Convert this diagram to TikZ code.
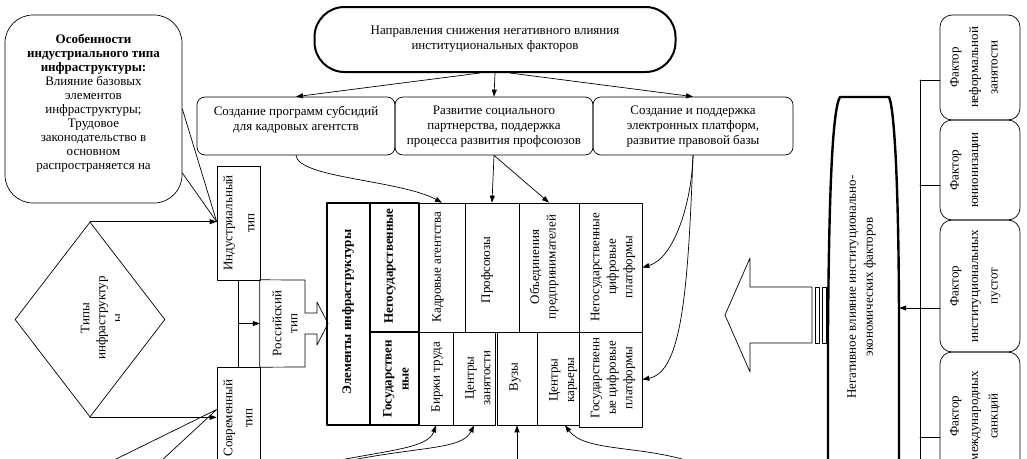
\documentclass[tikz,border=0pt]{standalone}
\usepackage{fontspec}
\setmainfont{Liberation Serif}
\usetikzlibrary{arrows.meta,shapes.geometric}

\begin{document}
\begin{tikzpicture}[line cap=round,line join=round,>={Triangle[length=7pt,width=5pt]},x=1pt,y=-1pt,
    every node/.style={font=\fontsize{13}{15}\selectfont},
    box/.style={draw,line width=0.7pt,inner sep=0pt},
    cell/.style={draw,line width=0.7pt,inner sep=0pt},
    thickcell/.style={draw,line width=1.6pt,inner sep=0pt},
    vtext/.style={rotate=90,align=center,inner sep=0pt,font=\fontsize{13}{16.5}\selectfont},
    rbox/.style={draw,line width=0.7pt,rounded corners=8pt,inner sep=0pt,minimum height=58pt},
    factor/.style={draw,line width=0.7pt,rounded corners=12pt,inner sep=0pt,minimum width=80pt},
    conn/.style={->,line width=0.7pt}]
    \useasboundingbox (0,0) rectangle (1027,458);
    \clip (0,0) rectangle (1027,458);
    % left part
    \node[box,rounded corners=28pt,minimum width=177pt,minimum height=188pt] (osob) at (93.5,109) {};
    \node[align=center,inner sep=0pt,font=\fontsize{13}{14}\selectfont] (osob-t) at (93.5,103) {\textbf{Особенности}\\\textbf{индустриального типа}\\\textbf{инфраструктуры:}\\Влияние базовых\\элементов\\инфраструктуры;\\Трудовое\\законодательство в\\основном\\распространяется на};
    \node[box,diamond,minimum width=150pt,minimum height=195pt] (tipy) at (90,319.5) {};
    \begin{scope}
        \clip (15,220) rectangle (119,420);
        \node[vtext,font=\fontsize{13}{16}\selectfont] (tipy-t) at (101,318) {Типы\\инфраструктур\\ы};
    \end{scope}
    \node[box,minimum width=43pt,minimum height=114pt] (ind) at (238.5,223) {};
    \node[vtext,font=\fontsize{13}{22}\selectfont] (ind-t) at (239,223) {Индустриальный\\тип};
    \node[box,minimum width=43pt,minimum height=103pt] (sovr) at (238.5,418.5) {};
    \node[vtext,font=\fontsize{13}{20}\selectfont] (sovr-t) at (238,418) {Современный\\тип};
    \node[inner sep=0pt,minimum width=45pt,minimum height=87pt] (ros) at (282.5,323.5) {};
    \draw[line width=0.7pt] (ros.north west) -- (305,280) -- (305,313) -- (317,313) -- (317,302) -- (328,323.5)
        -- (317,345) -- (317,334) -- (305,334) -- (305,367) -- (ros.south west) -- cycle;
    \begin{scope}
        \clip (261,281) rectangle (297,366);
        \node[vtext,font=\fontsize{13}{16}\selectfont] (ros-t) at (285,323.5) {Российский\\тип};
    \end{scope}
    \draw[conn] (tipy.north) -- (tipy.north -| ind.west);
    \draw[conn] (tipy.south) -- (tipy.south -| sovr.west);
    \draw[line width=0.7pt] (osob.east) -- (tipy.north -| ind.west);
    \draw[line width=0.7pt] ([yshift=-64pt]osob.east) -- (tipy.north -| ind.west);
    \coordinate (w1) at (110,462);
    \coordinate (w2) at (160,462);
    \draw[line width=0.7pt] (w1) -- ([yshift=9pt]sovr.west) -- (w2);
    \draw[line width=0.7pt] (ind.south) -- (sovr.north);
    \draw[conn] (ind.south |- ros.west) -- (ros.west);
    % top
    \node[draw,line width=2pt,rounded corners=30pt,minimum width=361pt,minimum height=65pt,align=center] (napr) at (495,39.5) {Направления снижения негативного влияния\\институциональных факторов};
    \node[rbox,minimum width=198pt] (sozd) at (296,126) {};
    \node[rbox,minimum width=198pt] (razv) at (494,126) {};
    \node[rbox,minimum width=200pt] (elek) at (693,126) {};
    \node[align=center,inner sep=0pt,anchor=north] (sozd-t) at (296,106) {Создание программ субсидий\\для кадровых агентств};
    \begin{scope}
        \clip (396,98) rectangle (792,149.5);
        \node[align=center,inner sep=0pt,anchor=north] (razv-t) at (494,106) {Развитие социального\\партнерства, поддержка\\процесса развития профсоюзов};
        \node[align=center,inner sep=0pt,anchor=north] (elek-t) at (693,106) {Создание и поддержка\\электронных платформ,\\развитие правовой базы};
    \end{scope}
    \draw[conn] ([xshift=-15pt]napr.south) -- (sozd.north);
    \draw[conn] (napr.south) -- (razv.north);
    \draw[conn] ([xshift=15pt]napr.south) -- (elek.north);
    % elements grid
    \node[cell,minimum width=46pt,minimum height=129pt] (kadr) at (442,267.5) {};
    \node[cell,minimum width=54pt,minimum height=129pt] (prof) at (492,267.5) {};
    \node[cell,minimum width=60pt,minimum height=129pt] (obed) at (549,267.5) {};
    \node[cell,minimum width=63pt,minimum height=129pt] (ncif) at (610.5,267.5) {};
    \node[cell,minimum width=34pt,minimum height=93pt] (birz) at (436,378.5) {};
    \node[cell,minimum width=42pt,minimum height=93pt] (czan) at (474,378.5) {};
    \node[cell,minimum width=40pt,minimum height=93pt] (vuz) at (517,378.5) {};
    \node[cell,minimum width=42pt,minimum height=93pt] (ckar) at (558,378.5) {};
    \node[cell,minimum width=63pt,minimum height=95pt] (gcif) at (610.5,379.5) {};
    \node[thickcell,minimum width=43pt,minimum height=222pt] (elem) at (348.5,314) {};
    \node[thickcell,minimum width=49pt,minimum height=129pt] (negos) at (394.5,267.5) {};
    \node[thickcell,minimum width=49pt,minimum height=93pt] (gos) at (394.5,378.5) {};
    \node[vtext,font=\bfseries\fontsize{13}{16.5}\selectfont] (elem-t) at (348,312) {Элементы инфраструктуры};
    \node[vtext,font=\bfseries\fontsize{13}{16.5}\selectfont] (negos-t) at (390,266) {Негосударственные};
    \node[vtext,font=\bfseries\fontsize{13}{17}\selectfont] (gos-t) at (396,379) {Государствен\\ные};
    \node[vtext] (kadr-t) at (438,267) {Кадровые агентства};
    \node[vtext] (prof-t) at (487,270) {Профсоюзы};
    \node[vtext] (obed-t) at (544,267) {Объединения\\предпринимателей};
    \node[vtext] (ncif-t) at (613,267) {Негосударственные\\цифровые\\платформы};
    \node[vtext] (birz-t) at (437,377) {Биржи труда};
    \node[vtext] (czan-t) at (478,378) {Центры\\занятости};
    \node[vtext] (vuz-t) at (515,377) {Вузы};
    \node[vtext] (ckar-t) at (563,380) {Центры\\карьеры};
    \node[vtext] (gcif-t) at (613,378) {Государственн\\ые цифровые\\платформы};
    \draw[conn] (sozd.south) .. controls (298,178) and (400,180) .. (kadr.north);
    \draw[conn] (razv.south) -- (prof.north);
    \draw[conn] (razv.south) -- (obed.north);
    \draw[conn] (elek.south) .. controls (692,200) and (675,258) .. (ncif.east);
    \draw[conn] (elek.south) .. controls (688,290) and (682,372) .. (gcif.east);
    \coordinate (b1) at (330,462);
    \coordinate (b2) at (342,462);
    \coordinate (b3) at (517,462);
    \coordinate (b4) at (692,462);
    \draw[conn] (b1) .. controls (390,450) and (428,448) .. (birz.south);
    \draw[conn] (b2) .. controls (420,446) and (462,450) .. (czan.south);
    \draw[conn] (b3) -- (vuz.south);
    \draw[conn] (b4) .. controls (640,445) and (585,452) .. ([xshift=7pt]ckar.south);
    % right part
    \draw[line width=0.7pt] (812,287) -- (750,287) -- (750,258) -- (725,315) -- (750,372) -- (750,343) -- (812,343) -- cycle;
    \draw[line width=0.7pt] (815,287) rectangle (819,343);
    \draw[line width=0.7pt] (822,287) rectangle (826,343);
    \node[inner sep=0pt,minimum width=71pt,minimum height=361pt] (neg) at (863.5,277.5) {};
    \draw[line width=2.4pt] (828,480) -- (828,330) .. controls (829,200) and (832,110) .. (840,97) -- (889,97)
        .. controls (895,110) and (899,200) .. (899,330) -- (899,480);
    \node[vtext,font=\fontsize{13}{17}\selectfont] (neg-t) at (861.5,287) {Негативное влияние институционально-\\экономических факторов};
    \node[factor,minimum height=105pt] (fneform) at (980,67.5) {};
    \node[factor,minimum height=100pt] (fyunion) at (980,170) {};
    \node[factor,minimum height=132pt] (finst) at (980,286) {};
    \node[factor,minimum height=128pt] (fmezh) at (980,416) {};
    \node[vtext,anchor=north,font=\fontsize{13}{19.5}\selectfont] (fneform-t) at (950,67.5) {Фактор\\неформальной\\занятости};
    \node[vtext,anchor=north,font=\fontsize{13}{19.5}\selectfont] (fyunion-t) at (950,170) {Фактор\\юнионизации};
    \node[vtext,anchor=north,font=\fontsize{13}{19.5}\selectfont] (finst-t) at (950,286) {Фактор\\институциональных\\пустот};
    \node[vtext,anchor=north,font=\fontsize{13}{19.5}\selectfont] (fmezh-t) at (950,416) {Фактор\\международных\\санкций};
    \coordinate (bus1) at (920,80);
    \coordinate (bus2) at (920,185);
    \coordinate (bus4) at (920,437);
    \coordinate (f3) at ([yshift=-22pt]finst.west);
    \draw[line width=0.7pt] (bus1) -- (920,462);
    \draw[line width=0.7pt] (bus1) -- (bus1 -| fneform.west);
    \draw[line width=0.7pt] (bus2) -- (bus2 -| fyunion.west);
    \draw[line width=0.7pt] (bus4) -- (bus4 -| fmezh.west);
    \draw[conn] (f3) -- (f3 -| neg.east);
\end{tikzpicture}
\end{document}
